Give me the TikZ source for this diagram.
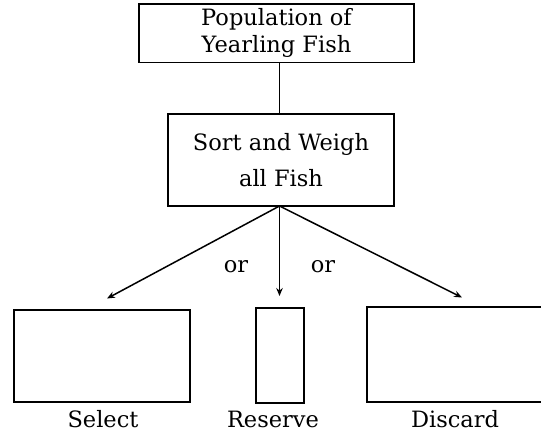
\documentclass[tikz,border=0pt]{standalone}
\usepackage{fontspec}
\setmainfont{DejaVu Serif}
\usetikzlibrary{arrows.meta}
\begin{document}
\begin{tikzpicture}[x=1pt,y=-1pt,
  box/.style={draw=black,line width=1.5pt,inner sep=0pt,outer sep=0pt},
  lbl/.style={font=\fontsize{22.5}{26}\selectfont,inner sep=0pt},
  conn/.style={line width=1.5pt},
  arr/.style={line width=1.5pt,-{Stealth[length=8pt,width=6.5pt]}}]
\useasboundingbox (0,0) rectangle (541,432);
\clip (0,0) rectangle (541,432);
\node[box,minimum width=275pt,minimum height=58.5pt,align=center,
  font=\fontsize{22.5}{27.5}\selectfont] (pop) at (276.5,33) {Population of\\Yearling Fish};
\node[box,minimum width=226pt,minimum height=92pt,align=center,
  font=\fontsize{22.5}{36.5}\selectfont] (sort) at (281,160) {Sort and Weigh\\all Fish};
\coordinate (hub) at (279.5,206);
\draw[conn] (hub |- pop.south) -- (hub |- sort.north);
\coordinate (selA) at (107,298.5);
\coordinate (resA) at (279.5,296);
\coordinate (disA) at (462,297.5);
\draw[arr] (hub) -- (selA);
\draw[arr] (hub) -- (resA);
\draw[arr] (hub) -- (disA);
\node[lbl] (or1) at (236,267) {or};
\node[lbl] (or2) at (323,267) {or};
\node[box,minimum width=176pt,minimum height=92pt] (sel) at (102,356) {};
\node[box,minimum width=48pt,minimum height=95pt] (res) at (280,355.5) {};
\node[box,minimum width=181pt,minimum height=95pt] (dis) at (457.5,354.5) {};
\node[lbl,anchor=base] (tsel) at (103,427) {Select};
\node[lbl,anchor=base] (tres) at (273,427) {Reserve};
\node[lbl,anchor=base] (tdis) at (455,427) {Discard};
\end{tikzpicture}
\end{document}
